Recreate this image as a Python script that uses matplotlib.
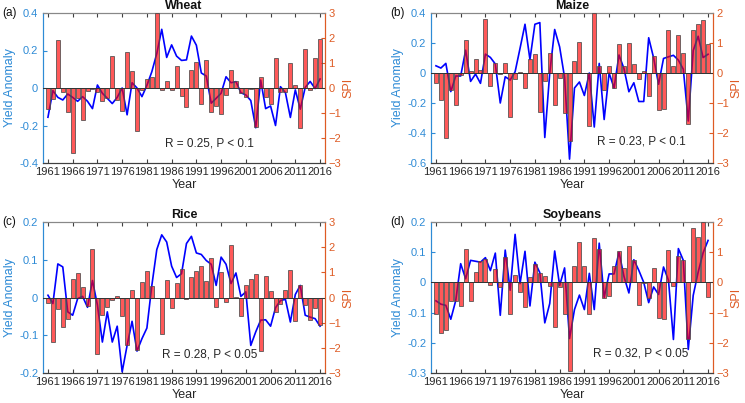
import numpy as np
import matplotlib
matplotlib.use("Agg")
import matplotlib.pyplot as plt

years = list(range(1961, 2017))

wheat_spi = [-0.82, -0.42, 1.91, -0.17, -0.97, -2.58, -0.40, -1.29, -0.10, -0.05,
             -0.16, -0.53, -0.39, 1.30, -0.46, -0.93, 1.46, 0.68, -1.73, -0.08,
             0.36, 0.45, 3.00, -0.08, 0.30, -0.09, 0.90, -0.32, -0.77, 0.71,
             1.06, -0.65, 1.14, -0.97, -0.72, -1.03, -0.27, 0.73, 0.28, -0.20,
             -0.35, -0.03, -1.54, 0.46, -0.37, -0.65, 1.21, -0.17, -0.17, 1.00,
             0.13, -1.60, 1.57, -0.09, 1.22, 1.95]
wheat_yield = [-0.156, -0.014, -0.050, -0.064, -0.032, -0.050, -0.071, -0.046, -0.071, -0.110,
               0.016, -0.028, -0.055, -0.083, -0.050, 0.000, -0.143, 0.028, 0.000, -0.046,
               0.014, 0.087, 0.184, 0.313, 0.163, 0.230, 0.170, 0.147, 0.150, 0.277,
               0.228, 0.080, 0.064, -0.081, -0.055, -0.028, 0.060, 0.028, 0.034, -0.025,
               -0.037, -0.067, -0.212, 0.042, -0.110, -0.096, -0.200, 0.007, -0.025, -0.157,
               -0.010, -0.113, 0.003, 0.035, -0.003, 0.048]

maize_spi = [-0.32, -0.90, -2.15, -0.58, -1.05, -0.06, 1.10, 0.08, 0.48, 0.09,
             1.80, -0.42, 0.33, -0.04, 0.32, -1.46, -0.21, 0.02, -0.50, 0.46,
             0.65, -1.30, -0.25, 0.67, -1.08, -0.16, -1.34, -2.28, 0.39, 1.05,
             -0.01, -1.75, 2.00, 0.24, -0.57, 0.24, -0.51, 0.96, 0.24, 1.00,
             0.30, -0.19, 0.06, -0.75, 0.56, -1.23, -1.21, 1.45, 0.23, 1.26,
             0.66, -1.71, 1.45, 1.64, 1.78, 0.96]
maize_yield = [0.048, 0.033, 0.064, -0.124, -0.020, -0.020, 0.152, -0.056, -0.007, -0.069,
               0.126, 0.104, 0.060, -0.200, -0.025, -0.047, 0.008, 0.165, 0.325, 0.090,
               0.325, 0.336, -0.430, 0.000, 0.290, 0.174, -0.030, -0.574, -0.100, -0.060,
               -0.150, 0.000, -0.360, 0.064, -0.310, 0.000, -0.100, 0.120, 0.030, -0.125,
               -0.065, -0.190, -0.190, 0.235, 0.100, -0.075, 0.097, 0.108, 0.118, 0.086,
               0.025, -0.320, 0.150, 0.245, 0.103, 0.125]

rice_spi = [-0.20, -1.75, -0.46, -1.16, -0.87, 0.74, 0.97, 0.43, -0.34, 1.93,
            -2.24, -0.68, -0.38, -0.09, 0.05, -0.75, -1.89, 0.31, -2.07, 0.62,
            1.05, 0.47, 0.00, -1.46, 0.68, -0.40, 0.56, 1.15, -0.05, 0.82,
            1.07, 1.24, 0.64, 1.58, -0.37, 1.03, -0.16, 2.10, 0.03, -0.75,
            0.48, 0.74, 0.95, -2.14, 0.86, 0.25, -0.57, -0.24, 0.29, 1.11,
            -0.92, 0.49, -0.29, -0.90, -0.42, -1.08]
rice_yield = [0.006, -0.016, 0.089, 0.081, -0.038, -0.047, -0.003, 0.003, -0.026, 0.045,
              -0.020, -0.118, -0.038, -0.118, -0.076, -0.197, -0.127, -0.063, -0.142, -0.109,
              -0.081, 0.032, 0.127, 0.166, 0.147, 0.083, 0.053, 0.063, 0.143, 0.162,
              0.118, 0.114, 0.098, 0.088, 0.032, 0.107, 0.088, 0.037, 0.065, 0.003,
              0.015, -0.127, -0.091, -0.060, -0.059, -0.076, -0.027, -0.008, -0.005, -0.065,
              0.008, 0.032, -0.047, -0.052, -0.056, -0.076]

soy_spi = [-1.04, -1.67, -1.56, -0.60, -0.60, -0.77, 1.11, -0.63, 0.36, 0.70,
           0.78, -0.07, 0.43, -0.15, 0.84, -1.04, 0.25, -0.31, -0.80, 0.18,
           0.62, 0.32, 0.22, -0.13, -1.49, -0.15, -1.05, -2.93, 0.55, 1.34,
           0.55, -1.03, 1.47, 1.12, -0.53, -0.45, 0.53, 1.03, 0.48, 1.22,
           0.73, -0.74, -0.03, -0.53, 0.48, -1.17, -1.22, 1.06, -0.13, 0.88,
           0.73, -1.87, 1.81, 1.49, 2.00, -0.49]
soy_yield = [-0.061, -0.072, -0.076, -0.122, -0.060, 0.062, 0.012, 0.073, 0.070, 0.067,
             0.082, 0.039, 0.097, -0.109, 0.107, -0.026, 0.159, -0.004, 0.103, -0.078,
             0.067, 0.032, -0.134, -0.070, 0.104, -0.010, 0.048, -0.186, -0.090, -0.042,
             -0.090, 0.030, -0.090, 0.130, -0.050, 0.028, 0.028, 0.100, 0.020, -0.035,
             0.075, 0.040, 0.000, -0.067, -0.015, -0.040, 0.051, 0.007, -0.189, 0.112,
             0.073, -0.222, -0.043, 0.034, 0.098, 0.139]

titles = ["Wheat", "Maize", "Rice", "Soybeans"]
labels = ["(a)", "(b)", "(c)", "(d)"]
stats = ["R = 0.25, P < 0.1", "R = 0.23, P < 0.1", "R = 0.28, P < 0.05", "R = 0.32, P < 0.05"]
left_lims = [(-0.4, 0.4), (-0.6, 0.4), (-0.2, 0.2), (-0.3, 0.2)]
left_steps = [0.2, 0.2, 0.1, 0.1]
right_lims = [(-3, 3), (-3, 2), (-3, 3), (-3, 2)]
xticks = list(range(1961, 2017, 5))

plt.rcParams['font.family'] = ['Liberation Sans', 'DejaVu Sans']

W, H = 745, 403
fig = plt.figure(figsize=(W / 100, H / 100), dpi=100)

blue_c = '#2E8BD6'
orange_c = '#DE5B24'
gray_c = '#404040'

boxes = [(43, 13, 282, 150), (431, 13, 282, 150), (43, 222, 282, 151), (431, 222, 282, 151)]
text_pos = [(0.59, 0.13), (0.745, 0.14), (0.59, 0.12), (0.745, 0.13)]
series = [(wheat_yield, wheat_spi), (maize_yield, maize_spi),
          (rice_yield, rice_spi), (soy_yield, soy_spi)]

for k in range(4):
    x0, y0, w, h = boxes[k]
    ax = fig.add_axes([x0 / W, 1 - (y0 + h) / H, w / W, h / H])
    ax2 = ax.twinx()
    yv, sv = series[k]
    ax.plot(years, yv, color='#0000FF', lw=1.2, zorder=2)
    ax2.bar(years, sv, width=0.8, color=(1.0, 0.0, 0.0, 0.65),
            edgecolor=(0.3, 0.3, 0.3, 0.8), linewidth=0.7, zorder=3)
    ax2.axhline(0, color='#333333', lw=0.7, zorder=4)

    ax.set_xlim(1960, 2017)
    lo, hi = left_lims[k]
    ax.set_ylim(lo, hi)
    st = left_steps[k]
    n = int(round((hi - lo) / st))
    lt = [round(lo + i * st, 2) for i in range(n + 1)]
    ax.set_yticks(lt)
    ax.set_yticklabels(['0' if abs(v) < 1e-9 else ('%g' % v) for v in lt])
    rlo, rhi = right_lims[k]
    ax2.set_ylim(rlo, rhi)
    ax2.set_yticks(list(range(rlo, rhi + 1)))
    ax.set_xticks(xticks)

    ax.tick_params(axis='x', direction='in', length=3, top=True, labelsize=8,
                   colors=gray_c, labelcolor='#262626', pad=3)
    ax.tick_params(axis='y', direction='in', length=3, colors=blue_c, labelsize=8)
    ax2.tick_params(axis='y', direction='in', length=3, colors=orange_c, labelsize=8, pad=2.5)

    for a in (ax, ax2):
        a.spines['left'].set_color(blue_c)
        a.spines['right'].set_color(orange_c)
        a.spines['top'].set_color('#888888')
        a.spines['bottom'].set_color(gray_c)
        for s in a.spines.values():
            s.set_linewidth(0.8)

    ax.set_ylabel("Yield Anomaly", color=blue_c, fontsize=9, labelpad=2)
    ax2.set_ylabel("SPI", color=orange_c, fontsize=9, rotation=90, labelpad=1)
    ax.set_xlabel("Year", color='#262626', fontsize=9, labelpad=1)
    ax.set_title(titles[k], fontsize=9, fontweight='bold', pad=3, color='#111111')
    ax2.text(text_pos[k][0], text_pos[k][1], stats[k], transform=ax2.transAxes,
             ha='center', va='center', fontsize=8.5, color='#262626', zorder=6)
    fig.text((x0 - 41) / W, 1 - (y0 + 0) / H, labels[k], fontsize=8.5,
             ha='left', va='center', color='#111111')

fig.savefig("out.png", dpi=100)
